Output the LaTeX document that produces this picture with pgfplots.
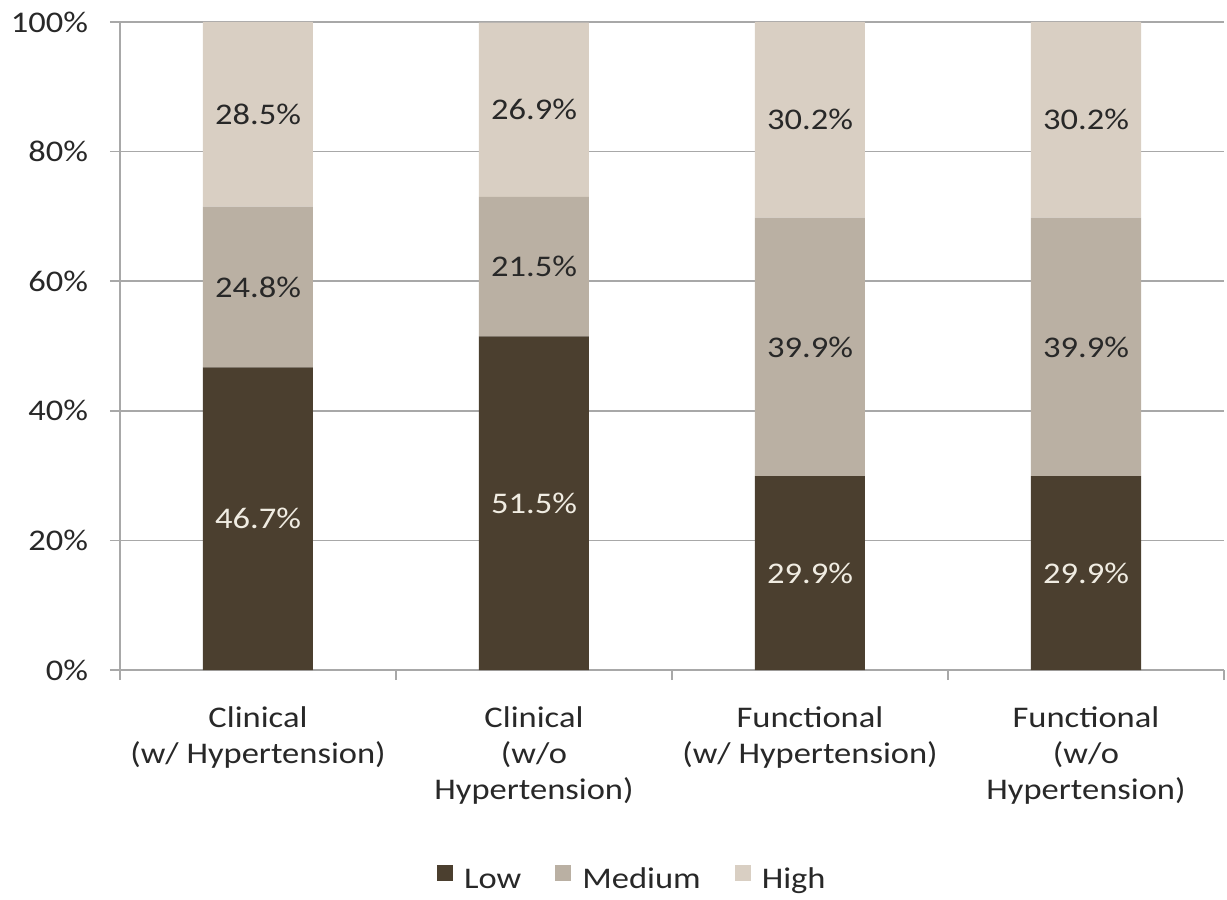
\documentclass[border=0pt]{standalone}
\usepackage{fontspec}
\setmainfont{Carlito}[FakeStretch=1.15]
\usepackage{pgfplots}
\pgfplotsset{compat=1.18}
\definecolor{lowc}{RGB}{75,63,47}
\definecolor{medc}{RGB}{186,176,163}
\definecolor{highc}{RGB}{217,207,195}
\definecolor{gridc}{RGB}{168,168,168}
\definecolor{txt}{RGB}{40,40,40}
\definecolor{lighttxt}{RGB}{240,236,226}
\begin{document}
\begin{tikzpicture}[font=\fontsize{15}{18}\selectfont]
\useasboundingbox (-60pt,-115pt) rectangle (553.5pt,335pt);
\begin{axis}[
  scale only axis, width=552pt, height=324pt,
  ybar stacked, bar width=55pt,
  xmin=-0.5, xmax=3.5, ymin=0, ymax=100,
  axis lines=left, axis line style={-, draw=gridc, line width=0.8pt},
  tick align=outside, major tick length=5pt,
  tick style={draw=gridc, line width=0.8pt},
  ytick={0,20,40,60,80,100},
  yticklabel={\pgfmathprintnumber{\tick}\%},
  /pgf/number format/assume math mode=true,
  yticklabel style={text=txt, xshift=-7.5pt},
  ymajorgrids, grid style={draw=gridc, line width=0.8pt},
  xtick={-0.5,0.5,1.5,2.5,3.5}, xticklabels={},
  extra x ticks={0,1,2,3},
  extra x tick labels={Clinical\\(w/ Hypertension),Clinical\\(w/o\\Hypertension),Functional\\(w/ Hypertension),Functional\\(w/o\\Hypertension)},
  extra x tick style={major tick length=0pt, grid=none,
    xticklabel style={align=center, text=txt, yshift=-15pt}},
  legend columns=3,
  legend style={at={(0.465,-0.324)}, anchor=center, draw=none, fill=none,
    text=txt, /tikz/every odd column/.append style={column sep=3.5pt},
    /tikz/every even column/.append style={column sep=15pt}},
  legend image code/.code={\fill[#1] (0pt,-0.5pt) rectangle (8pt,7.5pt);},
]
\addplot[fill=lowc, draw=none] coordinates {(0,46.7) (1,51.5) (2,29.9) (3,29.9)};
\addplot[fill=medc, draw=none] coordinates {(0,24.8) (1,21.5) (2,39.9) (3,39.9)};
\addplot[fill=highc, draw=none] coordinates {(0,28.5) (1,26.9) (2,30.2) (3,30.2)};
\legend{Low,Medium,High}
\end{axis}
\begin{axis}[
  scale only axis, width=552pt, height=324pt,
  xmin=-0.5, xmax=3.5, ymin=0, ymax=100, hide axis,
]
\addplot[draw=none, nodes near coords={\pgfmathprintnumber[fixed,fixed zerofill,precision=1,assume math mode=true]{\pgfplotspointmeta}\%},
  point meta=explicit, every node near coord/.append style={anchor=center, text=lighttxt}]
  table[meta=v] {
x y v
0 23.35 46.7
1 25.75 51.5
2 14.95 29.9
3 14.95 29.9
};
\addplot[draw=none, nodes near coords={\pgfmathprintnumber[fixed,fixed zerofill,precision=1,assume math mode=true]{\pgfplotspointmeta}\%},
  point meta=explicit, every node near coord/.append style={anchor=center, text=txt}]
  table[meta=v] {
x y v
0 59.1 24.8
1 62.25 21.5
2 49.85 39.9
3 49.85 39.9
0 85.75 28.5
1 86.45 26.9
2 84.9 30.2
3 84.9 30.2
};
\end{axis}
\end{tikzpicture}
\end{document}
